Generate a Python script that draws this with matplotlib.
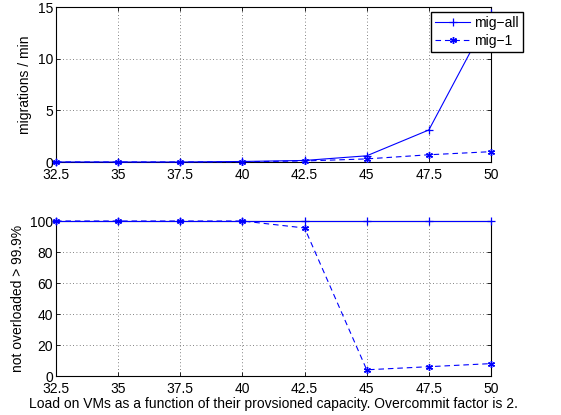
import matplotlib
matplotlib.use("Agg")
import matplotlib.pyplot as plt

load = [32.5, 35, 37.5, 40, 42.5, 45, 47.5, 50]
xtick_labels = ["32.5", "35", "37.5", "40", "42.5", "45", "47.5", "50"]
mig_all_rate = [0.0, 0.0, 0.0, 0.05, 0.15, 0.6, 3.1, 14.4]
mig_1_rate = [0.0, 0.0, 0.0, 0.02, 0.1, 0.3, 0.7, 1.0]
mig_all_ok = [100, 100, 100, 100, 100, 100, 100, 100]
mig_1_ok = [100, 100, 100, 100, 95.5, 4, 6, 8]

plt.rcParams['font.family'] = ['Liberation Sans', 'DejaVu Sans']
plt.rcParams['font.size'] = 10

fig = plt.figure(figsize=(5.61, 4.15), dpi=100)
ax1 = fig.add_axes([56/561, 1-162/415, 435/561, 155/415])
ax2 = fig.add_axes([56/561, 1-376/415, 435/561, 155/415])

blue = (0, 0, 1)
asterisk = (6, 2, 0)
for ax in (ax1, ax2):
    ax.set_xlim(32.5, 50)
    ax.set_xticks(load)
    ax.set_xticklabels(xtick_labels)
    ax.grid(True, linestyle=(0, (1, 3)), color='0.35', linewidth=0.6)
    ax.tick_params(direction='in', top=True, right=True, length=3, width=0.6)
    ax.tick_params(axis='x', pad=4.5)
    ax.tick_params(axis='y', pad=2)
    for s in ax.spines.values():
        s.set_linewidth(0.8)

l1, = ax1.plot(load, mig_all_rate, color=blue, linestyle='-', marker='+', markersize=6, linewidth=0.8,
               markeredgewidth=0.9, label='mig\u2212all', clip_on=False, zorder=3)
l2, = ax1.plot(load, mig_1_rate, color=blue, linestyle='--', marker=asterisk, markersize=5, linewidth=0.8,
               markeredgewidth=1.0, label='mig\u22121', dashes=(5, 3.5), clip_on=False, zorder=3)
ax1.set_ylim(0, 15)
ax1.set_yticks([0, 5, 10, 15])
ax1.set_ylabel('migrations / min', labelpad=4)
ax1.legend(loc='upper left', bbox_to_anchor=(431/561, 1-12/415), bbox_transform=fig.transFigure,
           fancybox=False, framealpha=1, edgecolor='black', borderpad=0.3, handlelength=2.5,
           handletextpad=0.3, borderaxespad=0, labelspacing=0.3)

ax2.plot(load, mig_all_ok, color=blue, linestyle='-', marker='+', markersize=6, linewidth=0.8,
         markeredgewidth=0.9, clip_on=False, zorder=3)
ax2.plot(load, mig_1_ok, color=blue, linestyle='--', marker=asterisk, markersize=5, linewidth=0.8,
         markeredgewidth=1.0, dashes=(5, 3.5), clip_on=False, zorder=3)
ax2.set_ylim(0, 100)
ax2.set_yticks([0, 20, 40, 60, 80, 100])
ax2.set_ylabel('not overloaded > 99.9%', labelpad=4)
ax2.set_xlabel('Load on VMs as a function of their provsioned capacity. Overcommit factor is 2.', labelpad=0.5)

fig.savefig('out.png', dpi=100)
